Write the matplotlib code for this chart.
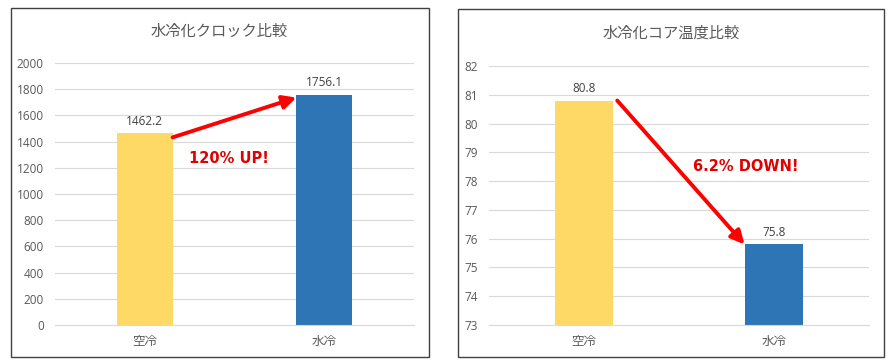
import matplotlib
matplotlib.use("Agg")
import matplotlib.pyplot as plt
from matplotlib.patches import Rectangle

plt.rcParams['font.family'] = ['Open Sans', 'Noto Sans CJK JP', 'DejaVu Sans']

categories = ["空冷", "水冷"]
clock_vals = [1462.2, 1756.1]
temp_vals = [80.8, 75.8]
clock_ticks = [0, 200, 400, 600, 800, 1000, 1200, 1400, 1600, 1800, 2000]
temp_ticks = [73, 74, 75, 76, 77, 78, 79, 80, 81, 82]
titles = ["水冷化クロック比較", "水冷化コア温度比較"]
notes = ["120% UP!", "6.2% DOWN!"]

colors = ["#FFD966", "#2E75B6"]
grid_c = "#D9D9D9"
text_c = "#595959"
w = 0.31

fig = plt.figure(figsize=(8.89, 3.62), dpi=100)

# panel frames
fig.patches.append(Rectangle((0.0124, 0.0138), 0.470, 0.964, transform=fig.transFigure,
                             fill=False, edgecolor="#404040", lw=1.0))
fig.patches.append(Rectangle((0.5152, 0.0138), 0.479, 0.961, transform=fig.transFigure,
                             fill=False, edgecolor="#404040", lw=1.0))

ax1 = fig.add_axes([0.0619, 0.1022, 0.4038, 0.7238])
ax2 = fig.add_axes([0.5500, 0.1022, 0.4275, 0.7155])

def style(ax, ticks):
    ax.set_xlim(-0.5, 1.5)
    ax.set_ylim(ticks[0], ticks[-1])
    ax.set_yticks(ticks)
    ax.set_xticks([0, 1])
    ax.set_xticklabels(categories, fontsize=9, color=text_c)
    ax.tick_params(axis='y', length=0, labelsize=8.5, labelcolor=text_c, pad=8)
    ax.tick_params(axis='x', length=0, pad=7)
    for s in ["top", "right", "left"]:
        ax.spines[s].set_visible(False)
    ax.spines["bottom"].set_color(grid_c)
    ax.grid(axis='y', color=grid_c, lw=0.8)
    ax.set_axisbelow(True)

arrow = dict(arrowstyle="-|>,head_length=0.8,head_width=0.4", color="#FF0000", lw=2.8,
             shrinkA=0, shrinkB=0)
note_font = dict(color="#E00000", fontsize=10.5, fontweight="bold", ha="center", va="center",
                 family="DejaVu Sans")

style(ax1, clock_ticks)
b1 = ax1.bar([0, 1], clock_vals, width=w, color=colors, zorder=2)
ax1.bar_label(b1, labels=[f"{v:.1f}" for v in clock_vals], padding=4, fontsize=8.5, color="#404040")
ax1.annotate("", xy=(1 - w / 2, clock_vals[1] - 20), xytext=(w / 2, clock_vals[0] - 30),
             arrowprops=arrow, zorder=3)
ax1.text(0.47, 1270, notes[0], **note_font)

style(ax2, temp_ticks)
b2 = ax2.bar([0, 1], temp_vals, width=w, color=colors, bottom=0, zorder=2)
ax2.bar_label(b2, labels=[f"{v:.1f}" for v in temp_vals], padding=4, fontsize=8.5, color="#404040")
ax2.annotate("", xy=(1 - w / 2, temp_vals[1]), xytext=(w / 2 + 0.02, temp_vals[0]),
             arrowprops=arrow, zorder=3)
ax2.text(0.85, 78.5, notes[1], **note_font)

fig.text(0.247, 0.912, titles[0], ha="center", va="center", fontsize=11, color=text_c)
fig.text(0.755, 0.906, titles[1], ha="center", va="center", fontsize=11, color=text_c)

fig.savefig("out.png", dpi=100)
